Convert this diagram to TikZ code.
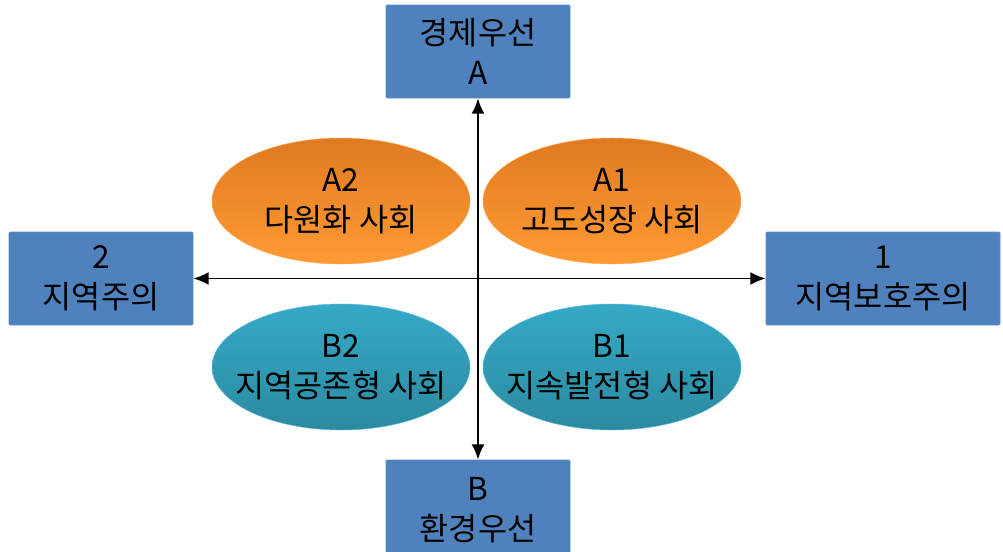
\documentclass[tikz,border=0pt]{standalone}
\usepackage{fontspec}
\setmainfont{Noto Sans CJK KR}
\usetikzlibrary{shapes.geometric,arrows.meta}
\definecolor{boxblue}{HTML}{4F81BD}
\definecolor{boxedge}{HTML}{5A8CC6}
\definecolor{orgtop}{HTML}{E07A22}
\definecolor{orgbot}{HTML}{FF9A33}
\definecolor{tealtop}{HTML}{35A9C9}
\definecolor{tealbot}{HTML}{2B8A9F}
\tikzset{
  lbl/.style={align=center, font=\fontsize{27pt}{34pt}\selectfont, text=black, inner sep=0pt},
  axisbox/.style={lbl, draw=boxedge, line width=0.6pt, fill=boxblue, rounded corners=1pt,
    minimum width=184*0.03cm, minimum height=93*0.03cm},
  ellbase/.style={ellipse, line width=0.4pt, minimum width=258*0.03cm, minimum height=126*0.03cm, inner sep=0pt},
  orgell/.style={ellbase, draw=orgbot!80!white, top color=orgtop, bottom color=orgbot},
  tealell/.style={ellbase, draw=tealtop!80!white, top color=tealtop, bottom color=tealbot},
  axisarrow/.style={line width=1.6pt, {Latex[length=13pt,width=11pt]}-{Latex[length=13pt,width=11pt]}}
}
\begin{document}
\begin{tikzpicture}[x=0.03cm,y=-0.03cm]
\useasboundingbox (0,0) rectangle (1003,551);
\node[axisbox] (top) at (478,51.5) {경제우선\\A};
\node[axisbox] (left) at (101,278.5) {2\\지역주의};
\node[axisbox, minimum width=234*0.03cm] (right) at (883,278.5) {1\\지역보호주의};
\node[axisbox, minimum height=100*0.03cm] (bottom) at (478,510) {B\\환경우선};
\node[orgell] (a2) at (341,201) {};
\node[orgell] (a1) at (612,201) {};
\node[tealell] (b2) at (341,367) {};
\node[tealell] (b1) at (612,367) {};
\node[lbl] (a2t) at (a2.center) {A2\\다원화 사회};
\node[lbl] (a1t) at (a1.center) {A1\\고도성장 사회};
\node[lbl] (b2t) at (b2.center) {B2\\지역공존형 사회};
\node[lbl] (b1t) at (b1.center) {B1\\지속발전형 사회};
\draw[axisarrow] (top.south) -- (bottom.north);
\draw[axisarrow] (left.east) -- (right.west);
\end{tikzpicture}
\end{document}
